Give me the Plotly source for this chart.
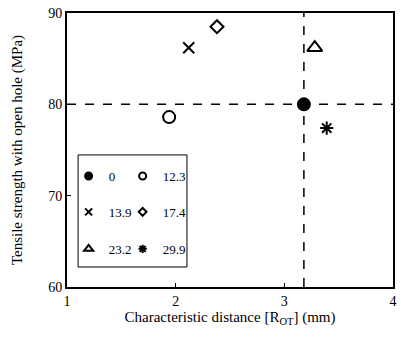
import plotly.graph_objects as go

labels = ["0", "12.3", "13.9", "17.4", "23.2", "29.9"]
x_vals = [3.18, 1.94, 2.12, 2.38, 3.28, 3.39]
y_vals = [80.0, 78.6, 86.2, 88.5, 86.2, 77.4]
symbols = ["circle", "circle-open", "x-thin-open", "diamond-open", "triangle-up-open", "asterisk-open"]
sizes = [12, 12, 11, 10, 13, 11]
legend_sizes = [7, 7, 7, 6, 8, 7]
x_ticks = [1, 2, 3, 4]
y_ticks = [60, 70, 80, 90]

FONT = "Liberation Serif"
legend_rows = ["legend", "legend", "legend2", "legend2", "legend3", "legend3"]

fig = go.Figure()
for lab, x, y, sym, sz, lsz, lg in zip(labels, x_vals, y_vals, symbols, sizes, legend_sizes, legend_rows):
    fig.add_trace(go.Scatter(
        x=[x], y=[y], mode="markers", name=lab, showlegend=False, legendgroup=lab,
        marker=dict(symbol=sym, size=sz, color="black",
                    line=dict(color="black", width=2)),
    ))
    # legend-only entry with smaller symbol
    fig.add_trace(go.Scatter(
        x=[None], y=[None], mode="markers", name=lab, legend=lg, legendgroup=lab,
        marker=dict(symbol=sym, size=lsz, color="black",
                    line=dict(color="black", width=2)),
    ))
# invisible spacer entries so the last legend text is not clipped
for lg in ["legend", "legend2", "legend3"]:
    fig.add_trace(go.Scatter(x=[None], y=[None], mode="lines", name=" ", legend=lg,
                             line=dict(width=0, color="rgba(0,0,0,0)"), hoverinfo="skip"))

# reference lines through the reference (0) point
fig.add_shape(type="line", xref="x", yref="y", x0=x_ticks[0], x1=x_ticks[-1],
              y0=y_vals[0], y1=y_vals[0], line=dict(color="black", width=1.5, dash="dash"), layer="below")
fig.add_shape(type="line", xref="x", yref="y", x0=x_vals[0], x1=x_vals[0],
              y0=y_ticks[0], y1=y_ticks[-1], line=dict(color="black", width=1.5, dash="dash"), layer="below")
# legend frame
fig.add_shape(type="rect", xref="paper", yref="paper", x0=0.034, x1=0.368, y0=0.073, y1=0.482,
              line=dict(color="black", width=1), fillcolor="white", layer="below")

leg_common = dict(orientation="h", bgcolor="rgba(0,0,0,0)", entrywidth=9,
                  font=dict(family=FONT, size=13, color="black"),
                  xanchor="left", yanchor="middle", itemsizing="trace", itemclick=False)
fig.update_layout(
    width=401, height=338,
    margin=dict(l=67, r=8, t=13, b=51),
    paper_bgcolor="white", plot_bgcolor="white",
    font=dict(family=FONT, size=13, color="black"),
    showlegend=True,
    legend=dict(x=0.005, y=0.405, **leg_common),
    legend2=dict(x=0.005, y=0.274, **leg_common),
    legend3=dict(x=0.005, y=0.139, **leg_common),
    xaxis=dict(range=[x_ticks[0], x_ticks[-1]], tickvals=x_ticks, ticks="inside", ticklen=4,
               tickcolor="black", showline=True, linecolor="black", linewidth=2, mirror=True,
               showgrid=False, zeroline=False, tickfont=dict(family=FONT, size=14),
               automargin=False,
               title=dict(text="Characteristic distance [R<sub>OT</sub>] (mm)",
                          font=dict(family=FONT, size=15), standoff=4)),
    yaxis=dict(range=[y_ticks[0], y_ticks[-1]], tickvals=y_ticks, ticks="inside", ticklen=4,
               tickcolor="black", showline=True, linecolor="black", linewidth=2, mirror=True,
               showgrid=False, zeroline=False, tickfont=dict(family=FONT, size=14),
               automargin=False,
               title=dict(text="Tensile strength with open hole (MPa)",
                          font=dict(family=FONT, size=15), standoff=22)),
)
fig.write_html("out.html", config={"displayModeBar": False},
               post_script="document.body.style.margin='0px';")
